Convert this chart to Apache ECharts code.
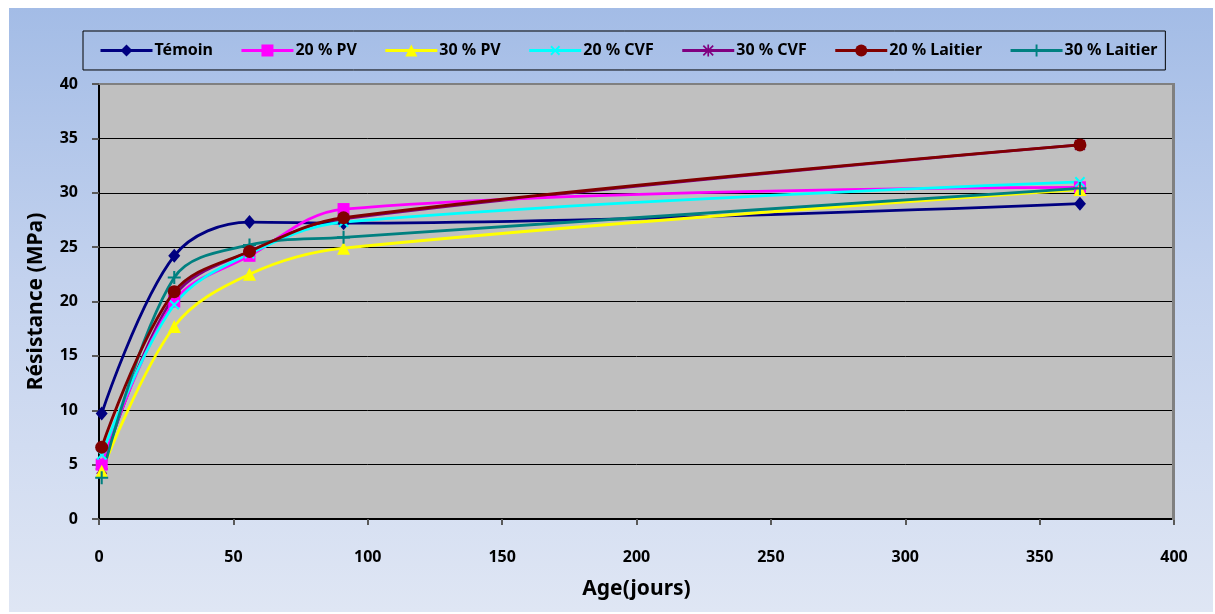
<!DOCTYPE html>
<html><head><meta charset="utf-8">
<script src="https://cdn.jsdelivr.net/npm/echarts@6/dist/echarts.min.js"></script>
<style>
html,body{margin:0;padding:0;background:#fff;}
#wrap{position:absolute;left:9px;top:8px;width:1204px;height:604px;background:linear-gradient(to bottom,#a3bce6 0%,#c3d2ee 45%,#dfe6f4 100%);}
#chart{position:absolute;left:0;top:0;width:1215px;height:614px;}
</style></head>
<body>
<div id="wrap"></div>
<div id="chart"></div>
<script>
const ages = [1, 28, 56, 91, 365];
const seriesNames = ['Témoin','20 % PV','30 % PV','20 % CVF','30 % CVF','20 % Laitier','30 % Laitier'];
const temoin   = [9.7, 24.2, 27.3, 27.2, 29.0];
const pv20     = [5.0, 20.0, 24.2, 28.5, 30.5];
const pv30     = [4.4, 17.7, 22.5, 24.9, 30.3];
const cvf20    = [5.9, 19.7, 24.4, 27.3, 31.0];
const cvf30    = [4.6, 20.5, 24.6, 27.6, 34.4];
const laitier20= [6.6, 20.9, 24.6, 27.7, 34.4];
const laitier30= [3.8, 22.2, 25.2, 25.9, 30.4];
const xTicks = [0,50,100,150,200,250,300,350,400];
const yTicks = [0,5,10,15,20,25,30,35,40];

const colors = ['#000080','#ff00ff','#ffff00','#00ffff','#800080','#800000','#008080'];
const plusPath = 'path://M4.2,0H5.8V4.2H10V5.8H5.8V10H4.2V5.8H0V4.2H4.2Z';
const starPath = 'path://M4.3,0H5.7V3.3L8.6,0.4L9.6,1.4L6.7,4.3H10V5.7H6.7L9.6,8.6L8.6,9.6L5.7,6.7V10H4.3V6.7L1.4,9.6L0.4,8.6L3.3,5.7H0V4.3H3.3L0.4,1.4L1.4,0.4L4.3,3.3Z';
const symbols = [
  {s:'diamond', size:[12,14], rot:0},
  {s:'rect', size:12, rot:0},
  {s:'triangle', size:13, rot:0},
  {s:plusPath, size:13, rot:45},
  {s:starPath, size:12, rot:0},
  {s:'circle', size:13, rot:0},
  {s:plusPath, size:13, rot:0}
];
const datasets = [temoin,pv20,pv30,cvf20,cvf30,laitier20,laitier30];
const font = '"Noto Sans", "Liberation Sans", sans-serif';

const series = seriesNames.map((n,i)=>({
  name:n, type:'line', smooth:0.35,
  data: ages.map((a,j)=>[a, datasets[i][j]]),
  symbol: symbols[i].s, symbolSize: symbols[i].size, symbolRotate: symbols[i].rot,
  showAllSymbol:true,
  lineStyle:{color:colors[i], width:2.8},
  itemStyle:{color:colors[i], borderWidth:0},
  z: 10 - (i===4?1:0) + (i===5?1:0)
}));

const chart = echarts.init(document.getElementById('chart'));
chart.setOption({
  animation:false,
  backgroundColor:'transparent',
  legend:{
    left:83, top:31, width:1079, height:41,
    padding:[11,8,11,16],
    borderColor:'#000', borderWidth:1,
    itemWidth:52, itemHeight:15, itemGap:27,
    lineStyle:{width:3},
    textStyle:{fontFamily:font, fontWeight:'bold', fontSize:16, color:'#000', padding:[0,0,0,-3]},
    data: seriesNames
  },
  grid:{left:99, top:84, width:1075, height:435, show:true, backgroundColor:'#c0c0c0', borderColor:'#808080', borderWidth:0, containLabel:false},
  xAxis:{
    type:'value', min:0, max:400, interval:50,
    name:'Age(jours)', nameLocation:'middle', nameGap:60,
    nameTextStyle:{fontFamily:font, fontWeight:'bold', fontSize:21, color:'#000'},
    axisLine:{show:true, onZero:false, lineStyle:{color:'#000', width:2}},
    axisTick:{show:true, length:6, lineStyle:{color:'#595959', width:2}},
    axisLabel:{fontFamily:font, fontWeight:'bold', fontSize:16, color:'#000', margin:30,
      formatter:v=> xTicks.includes(v)? String(v):''},
    splitLine:{show:false}
  },
  yAxis:{
    type:'value', min:0, max:40, interval:5,
    name:'Résistance (MPa)', nameLocation:'middle', nameGap:52, nameRotate:90,
    nameTextStyle:{fontFamily:font, fontWeight:'bold', fontSize:21, color:'#000'},
    axisLine:{show:true, lineStyle:{color:'#000', width:2}},
    axisTick:{show:true, length:7, lineStyle:{color:'#595959', width:2}},
    axisLabel:{fontFamily:font, fontWeight:'bold', fontSize:16, color:'#000', margin:21,
      formatter:v=> yTicks.includes(v)? String(v):''},
    splitLine:{show:true, lineStyle:{color:'#000', width:1}}
  },
  graphic:[
    {type:'rect', shape:{x:1172, y:84, width:3, height:436}, style:{fill:'#808080'}, z:100},
    {type:'rect', shape:{x:99, y:83, width:1076, height:2}, style:{fill:'#808080'}, z:100}
  ],
  series: series
});
</script>
</body></html>
